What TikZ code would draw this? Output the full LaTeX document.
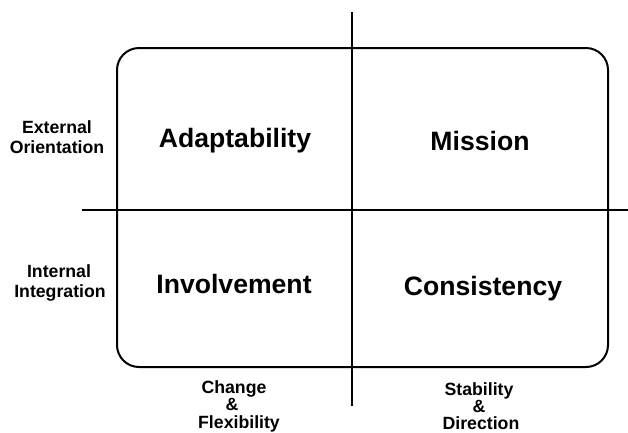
\documentclass[tikz,border=0pt]{standalone}
\usepackage{fontspec}
\setmainfont{Liberation Sans}
\begin{document}
\begin{tikzpicture}[x=1pt,y=-1pt,
  big/.style={font=\fontsize{26.6}{30}\selectfont\bfseries, inner sep=0pt, anchor=base},
  small/.style={font=\fontsize{17.7}{20}\selectfont\bfseries, inner sep=0pt, anchor=base},
  axis/.style={line width=2pt},
  frame/.style={draw, line width=2pt, rounded corners=22pt, minimum width=491pt, minimum height=319pt, inner sep=0pt}]
\useasboundingbox (0,0) rectangle (628,432);
\node[frame] (box) at (362.5,207.5) {};
\coordinate (vtop) at (352,12);
\coordinate (vbot) at (352,406);
\coordinate (hleft) at (82,210);
\coordinate (hright) at (628,210);
\draw[axis] (vtop) -- (vbot);
\draw[axis] (hleft) -- (hright);
\node[big] (adapt) at (235,147) {Adaptability};
\node[big] (mission) at (480,150) {Mission};
\node[big] (invol) at (234,293) {Involvement};
\node[big] (consis) at (483,295) {Consistency};
\node[small] (ext1) at (57,133) {External};
\node[small] (ext2) at (57,153) {Orientation};
\node[small] (int1) at (59,277) {Internal};
\node[small] (int2) at (60,297) {Integration};
\node[small] (chg1) at (234,393) {Change};
\node[small] (chg2) at (232,410) {\&};
\node[small] (chg3) at (239,428) {Flexibility};
\node[small] (stab1) at (479,395) {Stability};
\node[small] (stab2) at (479,412) {\&};
\node[small] (stab3) at (481,429) {Direction};
\end{tikzpicture}
\end{document}
